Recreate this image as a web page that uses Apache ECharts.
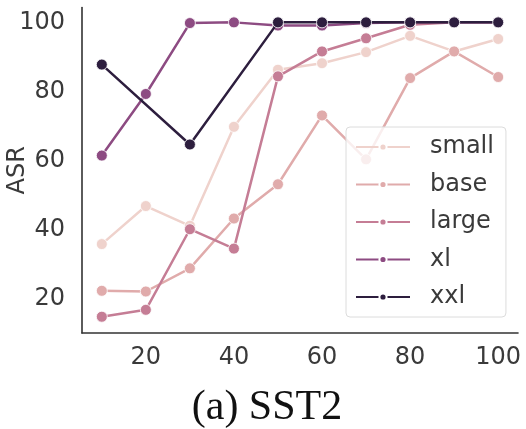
<!DOCTYPE html>
<html>
<head>
<meta charset="utf-8">
<script src="https://cdn.jsdelivr.net/npm/echarts@6/dist/echarts.min.js"></script>
<style>html,body{margin:0;padding:0;background:#fff}#c{width:526px;height:429px}</style>
</head>
<body>
<div id="c"></div>
<script>
const xs = [10, 20, 30, 40, 50, 60, 70, 80, 90, 100];
const small = [35.9, 46.9, 41.2, 69.8, 86.3, 88.2, 91.4, 96.1, 91.6, 95.2];
const base = [22.4, 22.2, 28.9, 43.3, 53.2, 73.1, 60.4, 83.9, 91.6, 84.2];
const large = [14.9, 16.9, 40.2, 34.6, 84.4, 91.6, 95.4, 99.3, 100, 100];
const xl = [61.5, 79.3, 99.8, 100, 99.1, 99.1, 99.8, 100, 100, 100];
const xxl = [87.8, null, 64.7, null, 100, 100, 100, 100, 100, 100];
const seriesNames = ['small', 'base', 'large', 'xl', 'xxl'];
const seriesValues = [small, base, large, xl, xxl];
const colors = ['#efd2cc', '#e0abab', '#c57d95', '#8d4b82', '#2d1e3e'];
const tickValues = [20, 40, 60, 80, 100];

const font = 'DejaVu Sans';
const chart = echarts.init(document.getElementById('c'));
chart.setOption({
  animation: false,
  backgroundColor: '#fff',
  title: {
    text: '(a) SST2', left: 262, top: 382, textAlign: 'center',
    textStyle: { fontFamily: 'Liberation Serif', fontSize: 42, fontWeight: 'normal', color: '#111' }
  },
  grid: { left: 82, right: 8, top: 7.5, bottom: 96, containLabel: false, outerBoundsMode: 'none' },
  xAxis: {
    type: 'value', min: 5.5, max: 104.5,
    axisLine: { show: true, lineStyle: { color: '#333', width: 1.6 } },
    axisTick: { show: false },
    splitLine: { show: false },
    axisLabel: { customValues: tickValues, margin: 13, fontFamily: font, fontSize: 24, color: '#3a3a3a' }
  },
  yAxis: {
    type: 'value', min: 10.2, max: 104.3,
    name: 'ASR', nameLocation: 'middle', nameGap: 52, nameMoveOverlap: false,
    nameTextStyle: { fontFamily: font, fontSize: 24, color: '#3a3a3a' },
    axisLine: { show: true, lineStyle: { color: '#333', width: 1.6 } },
    axisTick: { show: false },
    splitLine: { show: false },
    axisLabel: { customValues: tickValues, margin: 17, fontFamily: font, fontSize: 24, color: '#3a3a3a' }
  },
  legend: {
    data: seriesNames,
    orient: 'vertical', left: 346, top: 127,
    itemWidth: 54, itemHeight: 9, itemGap: 13.5,
    padding: [8, 12, 8, 9],
    backgroundColor: 'rgba(255,255,255,0.8)',
    borderColor: '#dcdcdc', borderWidth: 1, borderRadius: 4,
    textStyle: { fontFamily: font, fontSize: 24, color: '#3a3a3a', padding: [0, 0, 0, 15] }
  },
  series: seriesNames.map((n, i) => ({
    name: n, type: 'line',
    data: xs.map((x, j) => [x, seriesValues[i][j]]),
    connectNulls: true,
    symbol: 'circle', symbolSize: 11,
    showAllSymbol: true,
    color: colors[i],
    lineStyle: { color: colors[i], width: 2.5 },
    itemStyle: { color: colors[i], borderColor: '#fff', borderWidth: 0.8 },
    z: 2 + i
  }))
});
</script>
</body>
</html>
